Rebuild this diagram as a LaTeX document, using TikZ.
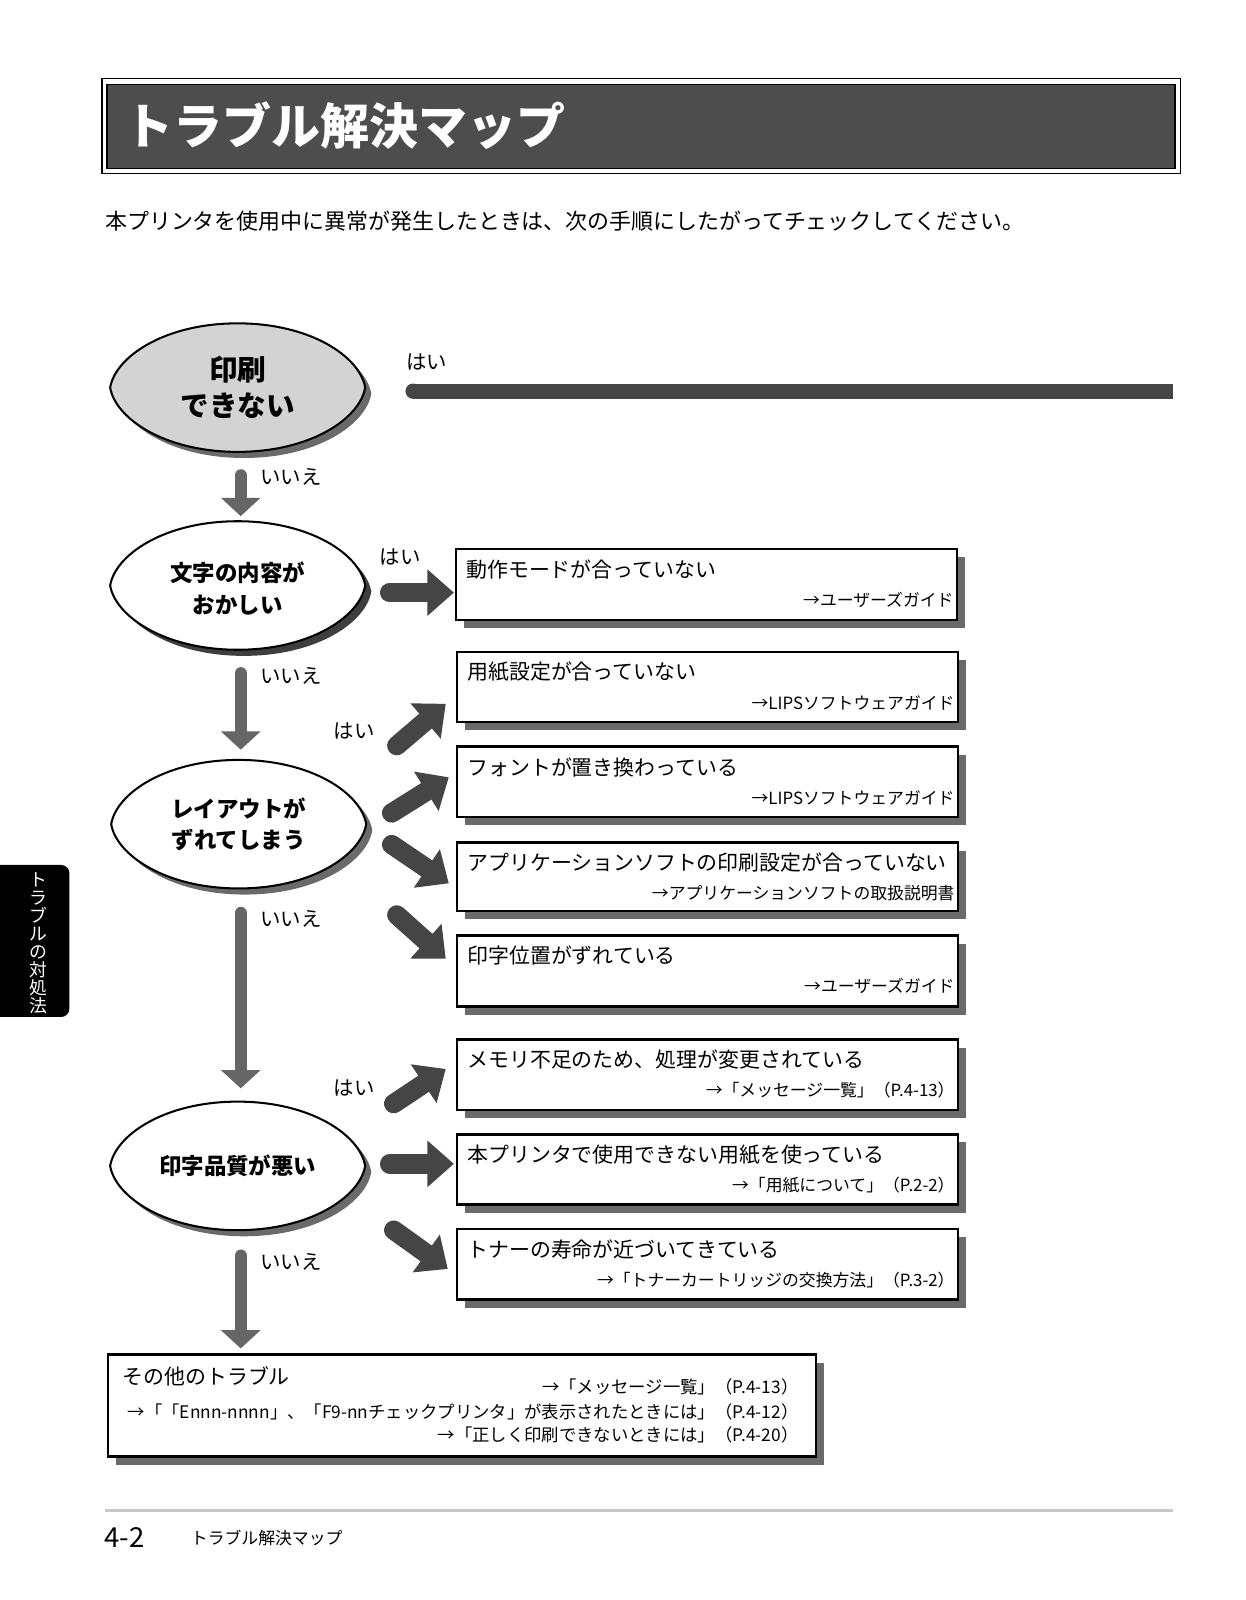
\documentclass[tikz,border=0pt]{standalone}
\usepackage{fontspec}
\setmainfont{Noto Sans CJK JP}
\usetikzlibrary{arrows.meta,shadows}
\definecolor{titlebg}{HTML}{4D4D4D}
\definecolor{arrdark}{HTML}{454545}
\definecolor{arrlight}{HTML}{666666}
\definecolor{shadowgray}{HTML}{6A6A6A}
\definecolor{shadowdark}{HTML}{3E3E3E}
\definecolor{ellgray}{HTML}{D3D3D3}
\definecolor{footgray}{HTML}{C8C8C8}
\def\lemonpath{(-125,0) .. controls (-120,-30) and (-72,-63) .. (0,-63) .. controls (72,-63) and (120,-30) .. (125,0) .. controls (120,30) and (72,63) .. (0,63) .. controls (-72,63) and (-120,30) .. cycle}
\newcommand\lemon[4]{%
  \begin{scope}[shift={(#1,#2)}]
    \fill[#4, shift={(6,6)}] \lemonpath;
    \draw[line width=2pt, fill=#3] \lemonpath;
  \end{scope}}
\newcommand\tbox[7]{%
  \node[tboxst, anchor=north west, minimum width=#4-#2, minimum height=#5-#3] (#1) at (#2,#3) {};
  \node[maintext, anchor=west] (#1m) at (#2+10,#3+20) {#6};
  \node[subtext, anchor=east] (#1s) at (#4-3,#3+50) {#7};}
\begin{document}
\begin{tikzpicture}[x=1pt,y=-1pt,
  fatarrow/.style={draw=arrdark, line width=19pt, line cap=round, -{Triangle[length=26pt,width=44pt]}},
  downarrow/.style={draw=arrlight, line width=12pt, line cap=round, -{Triangle[length=18pt,width=38pt]}},
  tboxst/.style={draw, line width=2.5pt, fill=white, inner sep=0pt, outer sep=0pt,
    drop shadow={shadow xshift=8pt, shadow yshift=-8pt, fill=shadowgray, opacity=1}},
  maintext/.style={inner sep=0pt, font=\fontsize{20.5}{22}\selectfont},
  subtext/.style={inner sep=0pt, font=\fontsize{16.5}{18}\selectfont},
  subtextb/.style={inner sep=0pt, font=\fontsize{17}{18}\selectfont},
  etext/.style={inner sep=0pt, align=center, font=\bfseries\fontsize{22}{31}\selectfont},
  lbl/.style={inner sep=0pt, font=\fontsize{20}{22}\selectfont}]
\useasboundingbox[fill=white] (0,0) rectangle (1220.6,1568.6);

% title
\draw[line width=1.2pt] (100,77) rectangle (1157,170);
\draw[line width=1.5pt, fill=titlebg] (105,83) rectangle (1152,165);
\node[anchor=west, text=white, inner sep=0pt, font=\bfseries\fontsize{48}{48}\selectfont] (title) at (122,123) {トラブル解決マップ};
\node[anchor=west, inner sep=0pt, font=\fontsize{21.5}{24}\selectfont] (intro) at (103,217) {本プリンタを使用中に異常が発生したときは、次の手順にしたがってチェックしてください。};

% side tab
\fill[black, rounded corners=8pt] (-12,848) rectangle (68,997);
\node[text=white, inner sep=0pt, align=center, font=\fontsize{17.5}{17.6}\selectfont] (tab) at (38,925) {ト\\ラ\\ブ\\ル\\の\\対\\処\\法};

% ellipses
\lemon{233}{380}{ellgray}{shadowgray}
\node[etext, font=\bfseries\fontsize{28}{35}\selectfont] (e1) at (233,380) {印刷\\できない};
\lemon{233}{574}{white}{shadowdark}
\node[etext] (e2) at (233,577) {文字の内容が\\おかしい};
\lemon{234}{808}{white}{shadowgray}
\node[etext] (e3) at (234,808) {レイアウトが\\ずれてしまう};
\lemon{233}{1143}{white}{shadowgray}
\node[etext] (e4) at (233,1143) {印字品質が悪い};

% yes bar from first ellipse
\fill[arrdark] (405,376) rectangle (1150,391);
\fill[arrdark] (405,383.5) circle (7.5);
\node[lbl, anchor=west] (yes0) at (398,355) {はい};

% boxes
\tbox{b1}{447}{538}{938}{608}{動作モードが合っていない}{→ユーザーズガイド}
\tbox{b2}{448}{639}{939}{708}{用紙設定が合っていない}{→LIPSソフトウェアガイド}
\tbox{b3}{448}{732}{939}{801}{フォントが置き換わっている}{→LIPSソフトウェアガイド}
\tbox{b4}{448}{826}{939}{893}{アプリケーションソフトの印刷設定が合っていない}{→アプリケーションソフトの取扱説明書}
\tbox{b5}{448}{917}{939}{987}{印字位置がずれている}{→ユーザーズガイド}
\tbox{b6}{448}{1019}{939}{1088}{メモリ不足のため、処理が変更されている}{→「メッセージ一覧」（P.4-13）}
\tbox{b7}{448}{1112}{939}{1181}{本プリンタで使用できない用紙を使っている}{→「用紙について」（P.2-2）}
\tbox{b8}{448}{1205}{939}{1274}{トナーの寿命が近づいてきている}{→「トナーカートリッジの交換方法」（P.3-2）}

% final box
\node[tboxst, anchor=north west, minimum width=694, minimum height=100] (other) at (106,1328) {};
\node[maintext, anchor=west] (otherm) at (120,1349) {その他のトラブル};
\node[subtextb, anchor=east] (o1) at (783,1360) {→「メッセージ一覧」（P.4-13）};
\node[subtextb, anchor=east] (o2) at (783,1384) {→「「Ennn-nnnn」、「F9-nnチェックプリンタ」が表示されたときには」（P.4-12）};
\node[subtextb, anchor=east] (o3) at (783,1407) {→「正しく印刷できないときには」（P.4-20）};

% down arrows
\coordinate (d1s) at (236,466); \coordinate (d1e) at (236,506);
\coordinate (d2s) at (236,660); \coordinate (d2e) at (236,735);
\coordinate (d3s) at (236,895); \coordinate (d3e) at (236,1067);
\coordinate (d4s) at (236,1231); \coordinate (d4e) at (236,1322);
\draw[downarrow] (d1s) -- (d1e);
\draw[downarrow] (d2s) -- (d2e);
\draw[downarrow] (d3s) -- (d3e);
\draw[downarrow] (d4s) -- (d4e);
\node[lbl, anchor=west] (no1) at (255,468) {いいえ};
\node[lbl, anchor=west] (no2) at (255,663) {いいえ};
\node[lbl, anchor=west] (no3) at (255,901) {いいえ};
\node[lbl, anchor=west] (no4) at (255,1237) {いいえ};

% yes arrows
\coordinate (r1s) at (382,581); \coordinate (r1e) at (445,581);
\coordinate (a1s) at (389,731); \coordinate (a1e) at (437,690);
\coordinate (a2s) at (384,797); \coordinate (a2e) at (440,762);
\coordinate (a3s) at (384,828); \coordinate (a3e) at (440,866);
\coordinate (a4s) at (389,897); \coordinate (a4e) at (437,940);
\coordinate (c1s) at (386,1082); \coordinate (c1e) at (437,1048);
\coordinate (c2s) at (382,1141); \coordinate (c2e) at (445,1141);
\coordinate (c3s) at (386,1206); \coordinate (c3e) at (439,1244);
\draw[fatarrow] (r1s) -- (r1e);
\draw[fatarrow] (a1s) -- (a1e);
\draw[fatarrow] (a2s) -- (a2e);
\draw[fatarrow] (a3s) -- (a3e);
\draw[fatarrow] (a4s) -- (a4e);
\draw[fatarrow] (c1s) -- (c1e);
\draw[fatarrow] (c2s) -- (c2e);
\draw[fatarrow] (c3s) -- (c3e);
\node[lbl, anchor=west] (yes1) at (372,546) {はい};
\node[lbl, anchor=west] (yes2) at (327,717) {はい};
\node[lbl, anchor=west] (yes3) at (327,1067) {はい};

% footer
\draw[footgray, line width=3pt] (103,1481) -- (1150,1481);
\node[anchor=west, inner sep=0pt, font=\fontsize{27}{28}\selectfont] (pageno) at (102,1507) {4-2};
\node[anchor=west, inner sep=0pt, font=\fontsize{16.5}{18}\selectfont] (foot) at (187,1508) {トラブル解決マップ};
\end{tikzpicture}
\end{document}
